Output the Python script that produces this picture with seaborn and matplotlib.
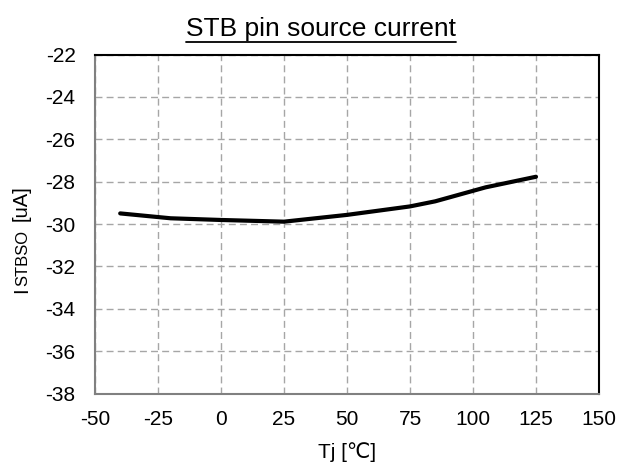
import pandas as pd
import matplotlib.pyplot as plt
import seaborn as sns
from matplotlib.lines import Line2D

# 데이터
tj = [-40, -20, 0, 25, 50, 75, 85, 105, 125]
istbso = [-29.5, -29.73, -29.81, -29.89, -29.57, -29.17, -28.93, -28.27, -27.77]
xticks = [-50, -25, 0, 25, 50, 75, 100, 125, 150]
yticks = [-38, -36, -34, -32, -30, -28, -26, -24, -22]

df = pd.DataFrame({'Tj': tj, 'I': istbso})

sns.set_style('white')
plt.rcParams['font.family'] = ['Liberation Sans', 'DejaVu Sans']
plt.rcParams['axes.unicode_minus'] = False
plt.rcParams['text.color'] = 'black'

fig = plt.figure(figsize=(6.23, 4.70), dpi=100)
ax = fig.add_axes([95 / 623, 1 - 393.5 / 470, 504 / 623, 339 / 470])

sns.lineplot(data=df, x='Tj', y='I', color='black', linewidth=3, ax=ax)

ax.set_xlim(-50, 150)
ax.set_ylim(-38, -22)
ax.set_xticks(xticks)
ax.set_yticks(yticks)
ax.tick_params(axis='both', labelsize=15, length=0, colors='black')
ax.tick_params(axis='x', pad=12)
ax.tick_params(axis='y', pad=14)
ax.grid(True, color='#a6a6a6', linewidth=1, linestyle=(0, (5, 3)))
ax.set_xlabel('')
ax.set_ylabel('')

for side in ['left', 'bottom']:
    ax.spines[side].set_color('#808080')
    ax.spines[side].set_linewidth(1.5)
for side in ['top', 'right']:
    ax.spines[side].set_color('black')
    ax.spines[side].set_linewidth(1.5)

# x 라벨
fig.text(347 / 623, 1 - 458 / 470, 'Tj [℃]', fontsize=15, color='black',
         ha='center', va='baseline')

# 제목 (밑줄)
title = fig.text(321 / 623, 1 - 36 / 470, 'STB pin source current', fontsize=19,
                 color='black', ha='center', va='baseline')
fig.canvas.draw()
r = fig.canvas.get_renderer()
bb = title.get_window_extent(r)
uy = 1 - 41.5 / 470
fig.add_artist(Line2D([bb.x0 / fig.bbox.width, bb.x1 / fig.bbox.width], [uy, uy],
                      color='black', linewidth=1.3, transform=fig.transFigure))

# y 라벨: I + 작은 STBSO + [uA]
x0 = 27 / 623
for s, fs, py in [('I', 14.5, 293), ('STBSO', 12, 286), ('[uA]', 14.5, 221)]:
    fig.text(x0, 1 - py / 470, s, fontsize=fs, rotation=90, rotation_mode='anchor',
             color='black', ha='left', va='baseline')

fig.savefig('out.png', dpi=100)
